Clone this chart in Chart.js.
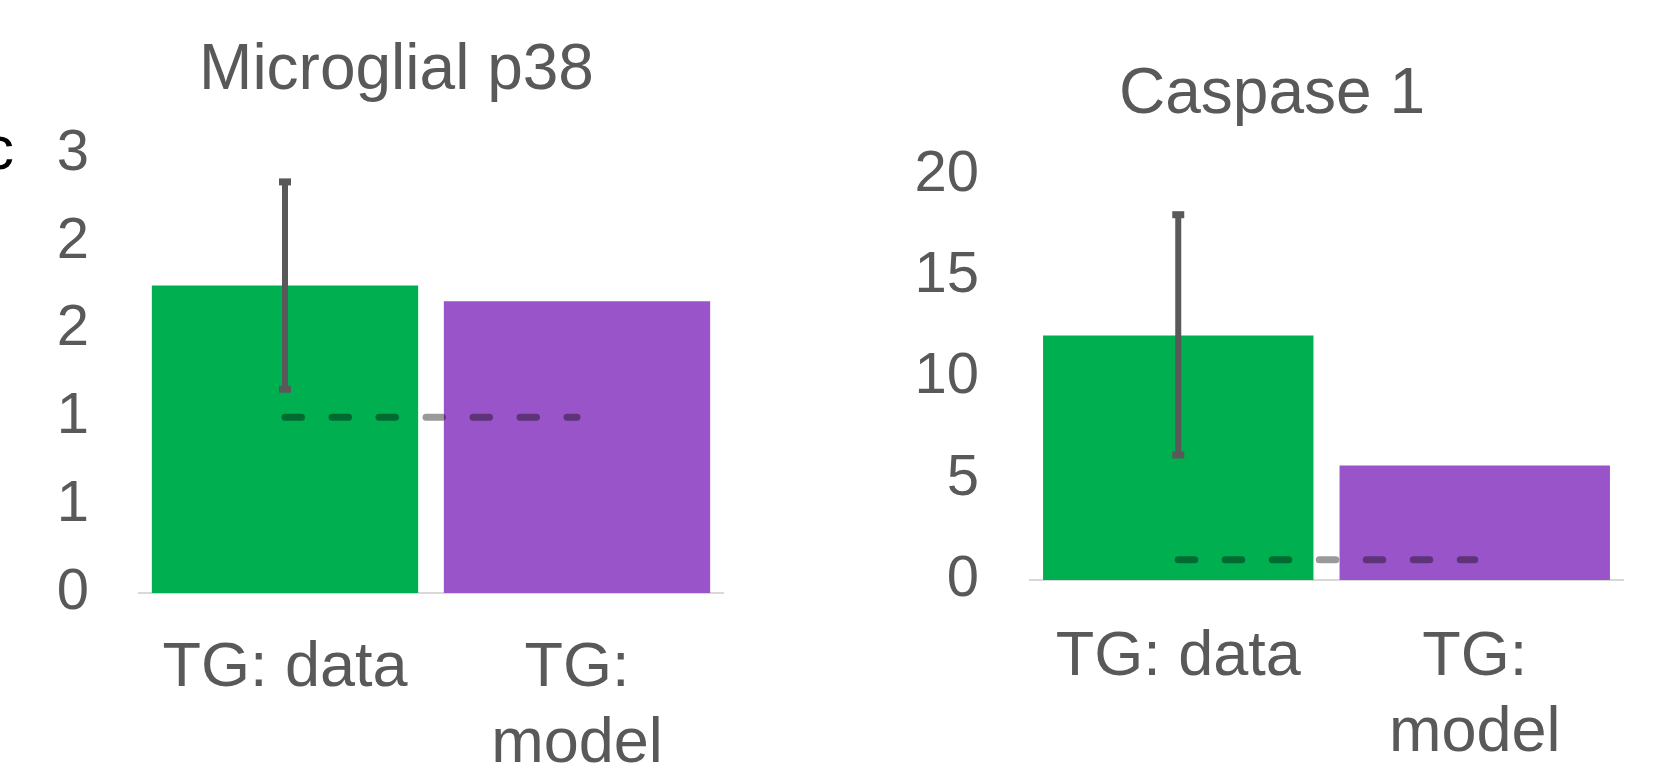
<!DOCTYPE html>
<html>
<head>
<meta charset="utf-8">
<script src="https://cdn.jsdelivr.net/npm/chart.js@4.4.1/dist/chart.umd.min.js"></script>
<style>
    html, body { margin: 0; padding: 0; background: #fff; overflow: hidden; }
    body { width: 1659px; height: 767px; position: relative; }
    .panel { position: absolute; top: 0; }
    #panel-label {
        position: absolute; left: -17px; top: 117px;
        font: 62px "Liberation Sans", Arial, sans-serif; line-height: 62px; color: #000;
    }
</style>
</head>
<body>
<div id="panel-label">c</div>
<div class="panel" style="left:0;width:792px;height:783px"><canvas id="p38-chart"></canvas></div>
<div class="panel" style="left:885px;width:774px;height:771px"><canvas id="casp-chart"></canvas></div>
<script>
// categories
const categories = [['TG: data'], ['TG:', 'model']];

// Microglial p38
const p38Values = [1.75, 1.66];
const p38ErrLow = [1.16, null];
const p38ErrHigh = [2.34, null];
const p38Ref = [1, 1];
const p38Ticks = ['0', '1', '1', '2', '2', '3'];

// Caspase 1
const caspValues = [12.07, 5.65];
const caspErrLow = [6.17, null];
const caspErrHigh = [18.03, null];
const caspRef = [1, 1];
const caspTicks = ['0', '5', '10', '15', '20'];

const COLORS = {
    data: '#00b050',
    model: '#9954c9',
    text: '#595959',
    axis: '#d9d9d9',
    err: '#595959',
    ref: '#9a9a9a'
};
const FONT = '"Liberation Sans", Arial, sans-serif';

// error bars on top of the bars, read through the chart's own scales
const errorBarPlugin = {
    id: 'errorBars',
    afterDatasetsDraw(chart, args, opts) {
        const { ctx, scales: { x, y } } = chart;
        ctx.save();
        ctx.strokeStyle = COLORS.err;
        ctx.fillStyle = COLORS.err;
        ctx.lineWidth = 6;
        opts.low.forEach((lo, i) => {
            const hi = opts.high[i];
            if (lo == null || hi == null) return;
            const px = x.getPixelForValue(i);
            const yLo = y.getPixelForValue(lo);
            const yHi = y.getPixelForValue(hi);
            ctx.beginPath();
            ctx.moveTo(px, yLo);
            ctx.lineTo(px, yHi);
            ctx.stroke();
            ctx.fillRect(px - 6, yHi - 3.5, 12, 7);
            ctx.fillRect(px - 6, yLo - 3.5, 12, 7);
        });
        ctx.restore();
    }
};

// the dashed reference line darkens whatever it crosses
const multiplyLinePlugin = {
    id: 'multiplyLine',
    beforeDatasetDraw(chart, args) {
        if (args.meta.type === 'line') {
            chart.ctx.save();
            chart.ctx.globalCompositeOperation = 'multiply';
        }
    },
    afterDatasetDraw(chart, args) {
        if (args.meta.type === 'line') chart.ctx.restore();
    }
};

function makeChart(canvasId, cfg) {
    return new Chart(document.getElementById(canvasId), {
        type: 'bar',
        data: {
            labels: categories,
            datasets: [
                {
                    type: 'line',
                    data: cfg.ref,
                    borderColor: COLORS.ref,
                    borderWidth: 7,
                    borderDash: [16.5, 30.5],
                    borderCapStyle: 'round',
                    pointRadius: 0,
                    fill: false,
                    order: 0
                },
                {
                    type: 'bar',
                    data: cfg.values,
                    backgroundColor: [COLORS.data, COLORS.model],
                    barPercentage: 0.912,
                    categoryPercentage: 1,
                    order: 1
                }
            ]
        },
        options: {
            responsive: true,
            maintainAspectRatio: false,
            animation: false,
            layout: { padding: cfg.padding },
            plugins: {
                legend: { display: false },
                tooltip: { enabled: false },
                title: {
                    display: true,
                    text: cfg.title,
                    color: COLORS.text,
                    font: { family: FONT, size: 64, weight: 'normal' },
                    padding: cfg.titlePad
                },
                errorBars: { low: cfg.errLow, high: cfg.errHigh }
            },
            scales: {
                x: {
                    grid: { display: false, drawTicks: false },
                    border: { display: true, color: COLORS.axis, width: 2 },
                    ticks: {
                        color: COLORS.text,
                        padding: cfg.xPad,
                        maxRotation: 0,
                        autoSkip: false,
                        font: { family: FONT, size: 63 }
                    },
                    afterFit: s => { s.height = cfg.xHeight; }
                },
                y: {
                    min: 0,
                    max: cfg.max,
                    grid: { display: false, drawTicks: false },
                    border: { display: false },
                    ticks: {
                        stepSize: cfg.step,
                        color: COLORS.text,
                        padding: cfg.yPad,
                        font: { family: FONT, size: 58 },
                        callback: (v, i) => cfg.ticks[i]
                    },
                    afterFit: s => { s.width = cfg.yWidth; }
                },
                // empty spacer on the right so the title sits where the original has it
                spacer: {
                    type: 'linear',
                    position: 'right',
                    grid: { display: false, drawTicks: false },
                    border: { display: false },
                    ticks: { display: false },
                    afterFit: s => { s.width = cfg.rightGap; }
                }
            }
        },
        plugins: [errorBarPlugin, multiplyLinePlugin]
    });
}

makeChart('p38-chart', {
    title: 'Microglial p38',
    values: p38Values, errLow: p38ErrLow, errHigh: p38ErrHigh, ref: p38Ref, ticks: p38Ticks,
    max: 2.5, step: 0.5,
    padding: { left: 49, right: 48, top: 0, bottom: 0 },
    titlePad: { top: 33, bottom: 44 },
    xPad: 38, yPad: 50,
    yWidth: 90, rightGap: 21, xHeight: 190
});

makeChart('casp-chart', {
    title: 'Caspase 1',
    values: caspValues, errLow: caspErrLow, errHigh: caspErrHigh, ref: caspRef, ticks: caspTicks,
    max: 20, step: 5,
    padding: { left: 25, right: 25, top: 0, bottom: 0 },
    titlePad: { top: 57, bottom: 41 },
    xPad: 40, yPad: 51,
    yWidth: 120, rightGap: 11, xHeight: 191
});
</script>
</body>
</html>
